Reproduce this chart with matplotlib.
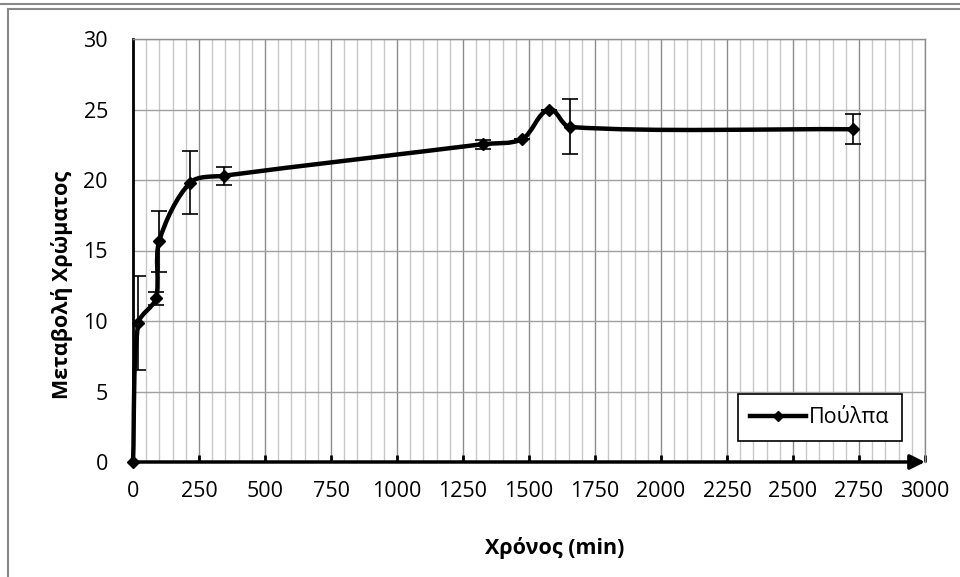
import matplotlib

matplotlib.use("Agg")

import matplotlib.pyplot as plt
import numpy as np
from matplotlib.lines import Line2D
from matplotlib.path import Path
from matplotlib.patches import PathPatch
from matplotlib.ticker import MultipleLocator


TIME_MIN = [0, 20, 87, 99, 217, 343, 1325, 1474, 1576, 1654, 2729]
COLOR_CHANGE = [0.0, 9.85, 11.6, 15.65, 19.82, 20.3, 22.54, 22.9, 25.0, 23.76, 23.6]
ERROR = [0.0, 3.35, 0.45, 2.15, 2.25, 0.62, 0.32, 0.0, 0.0, 1.95, 1.06]
SERIES_NAME = "Πούλπα"
X_LABEL = "Χρόνος (min)"
Y_LABEL = "Μεταβολή Χρώματος"
X_TICKS = list(range(0, 3001, 250))
Y_TICKS = list(range(0, 31, 5))

FONT = ["Open Sans", "DejaVu Sans"]
FS = 15.5


def smooth_path(xs, ys, sx, sy, k=0.3):
    # Excel-like smoothed line: cubic Bezier through every point,
    # tangents worked out in pixel space so the arms follow the screen shape
    p = np.column_stack([np.asarray(xs) * sx, np.asarray(ys) * sy])
    n = len(p)
    tang = []
    for i in range(n):
        d = p[min(i + 1, n - 1)] - p[max(i - 1, 0)]
        tang.append(d / np.hypot(*d))
    verts = [tuple(p[0])]
    codes = [Path.MOVETO]
    for i in range(n - 1):
        seg = np.hypot(*(p[i + 1] - p[i]))
        c1 = p[i] + tang[i] * seg * k
        c2 = p[i + 1] - tang[i + 1] * seg * k
        verts += [tuple(c1), tuple(c2), tuple(p[i + 1])]
        codes += [Path.CURVE4] * 3
    verts = [(vx / sx, vy / sy) for vx, vy in verts]
    return Path(verts, codes)


def main():
    plt.rcParams["font.family"] = FONT

    fig = plt.figure(figsize=(9.6, 5.77), dpi=100)
    ax = fig.add_axes([133 / 960, 1 - 462 / 577, 792 / 960, 423 / 577])

    # grid
    ax.xaxis.set_minor_locator(MultipleLocator(50))
    ax.grid(which="minor", axis="x", color="#c8c8c8", lw=1.0, zorder=0)
    ax.grid(which="major", axis="x", color="#8c8c8c", lw=1.0, zorder=0)
    ax.grid(which="major", axis="y", color="#a0a0a0", lw=1.0, zorder=0)
    ax.set_axisbelow(True)

    ax.set_xlim(0, 3000)
    ax.set_ylim(0, 30)
    ax.set_xticks(X_TICKS)
    ax.set_yticks(Y_TICKS)
    ax.tick_params(axis="x", which="major", direction="in", length=5, width=2,
                   color="black", labelsize=FS, pad=14)
    ax.tick_params(axis="x", which="minor", length=0)
    ax.tick_params(axis="y", length=0, labelsize=FS, pad=18)

    for side in ("top", "right"):
        ax.spines[side].set_color("#8c8c8c")
        ax.spines[side].set_linewidth(1.0)
    ax.spines["left"].set_color("black")
    ax.spines["left"].set_linewidth(2.0)
    ax.spines["bottom"].set_visible(False)

    # x axis with arrow head
    ax.annotate("", xy=(1.0, 0), xytext=(0, 0), xycoords="axes fraction",
                textcoords="axes fraction",
                arrowprops=dict(arrowstyle="-|>", lw=2.5, color="black",
                                mutation_scale=22, shrinkA=0, shrinkB=0),
                zorder=3, annotation_clip=False)

    # smoothed series line
    sx, sy = 792 / 3000, 423 / 30
    ax.add_patch(PathPatch(smooth_path(TIME_MIN, COLOR_CHANGE, sx, sy),
                           facecolor="none", edgecolor="black", lw=3.2,
                           capstyle="round", joinstyle="round", zorder=4,
                           clip_on=False))
    ax.errorbar(TIME_MIN, COLOR_CHANGE, yerr=ERROR, fmt="none", ecolor="black",
                elinewidth=1.2, capsize=5.5, capthick=1.2, zorder=4)
    ax.plot(TIME_MIN, COLOR_CHANGE, linestyle="none", marker="D", markersize=6,
            color="black", zorder=5, clip_on=False)

    handle = Line2D([], [], color="black", lw=3.2, marker="D", markersize=5)
    leg = ax.legend([handle], [SERIES_NAME], loc="lower right",
                    bbox_to_anchor=(902 / 960, 1 - 441 / 577),
                    bbox_transform=fig.transFigure, fontsize=FS, frameon=True,
                    fancybox=False, edgecolor="black", framealpha=1.0,
                    handlelength=2.6, handletextpad=0.1, borderpad=0.6,
                    borderaxespad=0)
    leg.get_frame().set_linewidth(1.2)

    fig.text(62 / 960, 1 - 285 / 577, Y_LABEL, fontsize=FS, fontweight="bold",
             rotation=90, ha="center", va="center")
    fig.text(555 / 960, 1 - 548 / 577, X_LABEL, fontsize=FS, fontweight="bold",
             ha="center", va="center")

    # outer chart frame
    frame = "#888888"
    fig.add_artist(Line2D([0, 1], [1 - 4 / 577] * 2, color=frame, lw=1.5))
    fig.add_artist(Line2D([8 / 960, 1], [1 - 9 / 577] * 2, color=frame, lw=1.5))
    fig.add_artist(Line2D([8 / 960] * 2, [0, 1 - 9 / 577], color=frame, lw=1.5))

    fig.savefig("out.png", dpi=100)
    plt.close(fig)


if __name__ == "__main__":
    main()
